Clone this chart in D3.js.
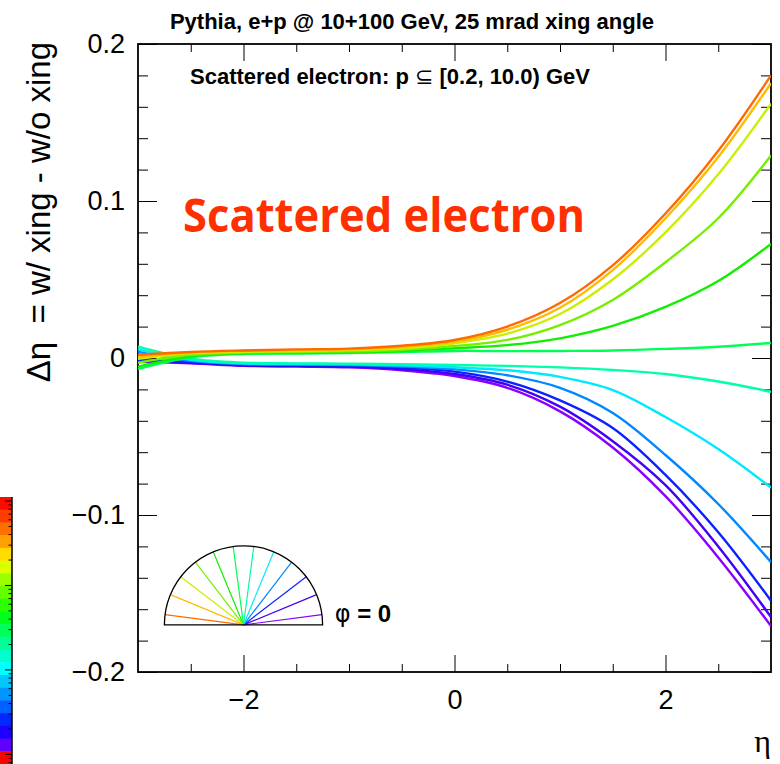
<!DOCTYPE html>
<html>
<head>
<meta charset="utf-8">
<script src="https://cdn.jsdelivr.net/npm/d3@7"></script>
<style>
  body { margin: 0; background: #fff; }
  svg text { font-family: "Liberation Sans", Arial, sans-serif; white-space: pre; }
</style>
</head>
<body>
<div id="chart"></div>
<script>
// eta sampling points of every curve
var etaPoints = [-3, -2.5, -2, -1.5, -1, -0.5, 0, 0.5, 1, 1.5, 2, 2.5, 3];

// one curve per azimuth slice (degrees)
var phiSlices = [7.5, 22.5, 37.5, 52.5, 67.5, 82.5, 97.5, 112.5, 127.5, 142.5, 157.5, 172.5];
var phiColors = ["#8a00ff", "#4200f5", "#0a22ff", "#0088ff", "#00e8ff", "#00ffaa",
                 "#00ff55", "#11ee00", "#77ee00", "#ccee00", "#ffbb00", "#ff6a00"];

var dEtaPhi7 = [-0.0024, -0.0034, -0.0050, -0.0055, -0.0060, -0.0078, -0.0115, -0.0190, -0.0340, -0.0570, -0.0880, -0.1270, -0.1707];
var dEtaPhi22 = [-0.0018, -0.0030, -0.0046, -0.0050, -0.0055, -0.0070, -0.0102, -0.0170, -0.0310, -0.0530, -0.0810, -0.1200, -0.1650];
var dEtaPhi37 = [-0.0012, -0.0025, -0.0042, -0.0046, -0.0050, -0.0062, -0.0087, -0.0150, -0.0270, -0.0446, -0.0745, -0.1110, -0.1546];
var dEtaPhi52 = [0.0040, -0.0018, -0.0038, -0.0042, -0.0045, -0.0054, -0.0072, -0.0110, -0.0190, -0.0350, -0.0618, -0.0930, -0.1300];
var dEtaPhi67 = [0.0055, -0.0012, -0.0035, -0.0038, -0.0040, -0.0047, -0.0059, -0.0078, -0.0120, -0.0204, -0.0376, -0.0580, -0.0826];
var dEtaPhi82 = [0.0072, -0.0005, -0.0030, -0.0034, -0.0036, -0.0040, -0.0045, -0.0050, -0.0060, -0.0076, -0.0102, -0.0150, -0.0215];
var dEtaPhi97 = [-0.0070, 0.0005, 0.0025, 0.0028, 0.0032, 0.0038, 0.0045, 0.0044, 0.0045, 0.0048, 0.0058, 0.0072, 0.0096];
var dEtaPhi112 = [-0.0055, 0.0012, 0.0030, 0.0032, 0.0036, 0.0045, 0.0062, 0.0082, 0.0125, 0.0204, 0.0325, 0.0490, 0.0726];
var dEtaPhi127 = [-0.0030, 0.0020, 0.0035, 0.0038, 0.0042, 0.0052, 0.0076, 0.0115, 0.0210, 0.0370, 0.0610, 0.0890, 0.1290];
var dEtaPhi142 = [-0.0005, 0.0030, 0.0040, 0.0045, 0.0050, 0.0062, 0.0094, 0.0155, 0.0280, 0.0500, 0.0800, 0.1170, 0.1620];
var dEtaPhi157 = [0.0008, 0.0035, 0.0045, 0.0050, 0.0055, 0.0070, 0.0104, 0.0180, 0.0320, 0.0560, 0.0890, 0.1280, 0.1750];
var dEtaPhi172 = [0.0020, 0.0038, 0.0048, 0.0055, 0.0060, 0.0078, 0.0115, 0.0200, 0.0350, 0.0590, 0.0920, 0.1320, 0.1800];

var allSeries = [dEtaPhi7, dEtaPhi22, dEtaPhi37, dEtaPhi52, dEtaPhi67, dEtaPhi82,
                 dEtaPhi97, dEtaPhi112, dEtaPhi127, dEtaPhi142, dEtaPhi157, dEtaPhi172];

// axis ticks
var xMajorTicks = [-2, 0, 2];
var xMinorTicks = [-2.5, -1.5, -1, -0.5, 0.5, 1, 1.5, 2.5];
var yMajorTicks = [-0.2, -0.1, 0, 0.1, 0.2];
var yMinorTicks = [-0.18, -0.16, -0.14, -0.12, -0.08, -0.06, -0.04, -0.02,
                   0.02, 0.04, 0.06, 0.08, 0.12, 0.14, 0.16, 0.18];

// palette strip of the colour bar left of the pad
var paletteBands = ["#ff0a00", "#ff3c00", "#ff7000", "#ffa000", "#ffdc00", "#dcff00", "#9cff00",
                    "#66ff00", "#2cff00", "#00ff1a", "#00ff5a", "#00ff96", "#00ffcc", "#00ffff",
                    "#00c8ff", "#0096ff", "#0060ff", "#0028ff", "#1e00ff", "#6000ff", "#ff0000"];

var width = 780, height = 764;
var svg = d3.select("#chart").append("svg")
  .attr("width", width)
  .attr("height", height);

var x = d3.scaleLinear().domain([-3, 3]).range([138, 771]);
var y = d3.scaleLinear().domain([-0.2, 0.2]).range([672, 44]);

svg.append("clipPath").attr("id", "frame-clip")
  .append("rect")
  .attr("x", x(-3)).attr("y", y(0.2))
  .attr("width", x(3) - x(-3)).attr("height", y(-0.2) - y(0.2));

// colour bar
var bandY = d3.scaleLinear().domain([0, paletteBands.length]).range([497, 764]);
svg.append("g").selectAll("rect")
  .data(paletteBands)
  .enter().append("rect")
  .attr("x", 0)
  .attr("y", function(d, i) { return bandY(i); })
  .attr("width", 12)
  .attr("height", function(d, i) { return bandY(i + 1) - bandY(i) + 0.5; })
  .style("fill", function(d) { return d; });

var cbScale = d3.scaleLog().domain([0.78, 1100]).range([763, 497]);
var cbAxis = svg.append("g")
  .attr("transform", "translate(12,0)")
  .call(d3.axisLeft(cbScale).tickSize(3.5).tickFormat(""));
cbAxis.selectAll(".tick line")
  .attr("x2", function(d) { return Math.abs(Math.log10(d) % 1) < 1e-6 ? -7 : -3.5; });
cbAxis.select(".domain").attr("d", "M0,497V764").style("stroke-width", 1.5);

// axes, ROOT style: ticks inside on all four sides
function drawAxis(axis, transform) {
  var g = svg.append("g").attr("transform", transform).call(axis);
  g.select(".domain").remove();
  g.selectAll(".tick line").style("stroke", "#000");
  g.selectAll("text").style("font-size", "27px").style("fill", "#000");
  return g;
}

var fmtY = function(d) { return d === 0 ? "0" : d3.format(".1f")(d); };

drawAxis(d3.axisBottom(x).tickValues(xMajorTicks).tickSize(-17).tickPadding(18).tickFormat(d3.format("d")),
  "translate(0," + y(-0.2) + ")");
drawAxis(d3.axisBottom(x).tickValues(xMinorTicks).tickSize(-8).tickFormat(""),
  "translate(0," + y(-0.2) + ")");
drawAxis(d3.axisTop(x).tickValues(xMajorTicks).tickSize(-17).tickFormat(""),
  "translate(0," + y(0.2) + ")");
drawAxis(d3.axisTop(x).tickValues(xMinorTicks).tickSize(-8).tickFormat(""),
  "translate(0," + y(0.2) + ")");
drawAxis(d3.axisLeft(y).tickValues(yMajorTicks).tickSize(-19).tickPadding(13).tickFormat(fmtY),
  "translate(" + x(-3) + ",0)");
drawAxis(d3.axisLeft(y).tickValues(yMinorTicks).tickSize(-10).tickFormat(""),
  "translate(" + x(-3) + ",0)");
drawAxis(d3.axisRight(y).tickValues(yMajorTicks).tickSize(-19).tickFormat(""),
  "translate(" + x(3) + ",0)");
drawAxis(d3.axisRight(y).tickValues(yMinorTicks).tickSize(-10).tickFormat(""),
  "translate(" + x(3) + ",0)");

svg.append("rect")
  .attr("x", x(-3)).attr("y", y(0.2))
  .attr("width", x(3) - x(-3)).attr("height", y(-0.2) - y(0.2))
  .style("fill", "none")
  .style("stroke", "#000")
  .style("stroke-width", 1.8);

// curves
var line = d3.line()
  .x(function(d) { return x(d[0]); })
  .y(function(d) { return y(d[1]); })
  .curve(d3.curveCatmullRom.alpha(0.5));

svg.append("g")
  .attr("clip-path", "url(#frame-clip)")
  .selectAll("path")
  .data(allSeries)
  .enter().append("path")
  .attr("d", function(s) { return line(etaPoints.map(function(e, i) { return [e, s[i]]; })); })
  .style("fill", "none")
  .style("stroke", function(s, i) { return phiColors[i]; })
  .style("stroke-width", 2.4);

// azimuth legend: half disc with one spoke per slice
var cx = x(-2), cy = y(-0.17);
var r = x(-1.25) - x(-2);
var legend = svg.append("g");
legend.selectAll("line.spoke")
  .data(phiSlices)
  .enter().append("line")
  .attr("class", "spoke")
  .attr("x1", cx).attr("y1", cy)
  .attr("x2", function(d) { return cx + r * Math.cos(d * Math.PI / 180); })
  .attr("y2", function(d) { return cy - r * Math.sin(d * Math.PI / 180); })
  .style("stroke", function(d, i) { return phiColors[i]; })
  .style("stroke-width", 1.2);
legend.append("path")
  .attr("d", "M" + (cx - r) + "," + cy + "A" + r + "," + r + " 0 0 1 " + (cx + r) + "," + cy + "Z")
  .style("fill", "none")
  .style("stroke", "#000")
  .style("stroke-width", 1.3);

var phiLabel = legend.append("text")
  .attr("x", cx + r + 12)
  .attr("y", cy - 3)
  .style("font-size", "24px");
phiLabel.append("tspan").style("font-family", "'DejaVu Sans'").text("\u03c6");
phiLabel.append("tspan").style("font-weight", "bold").text(" = 0");

// texts
svg.append("text")
  .attr("x", 412).attr("y", 29)
  .attr("text-anchor", "middle")
  .style("font-weight", "bold")
  .style("font-size", "22px")
  .text("Pythia, e+p @ 10+100 GeV, 25 mrad xing angle");

var sub = svg.append("text")
  .attr("x", 190).attr("y", 84)
  .style("font-weight", "bold")
  .style("font-size", "22px");
sub.append("tspan").text("Scattered electron: p ");
sub.append("tspan").style("font-weight", "normal").style("font-family", "'DejaVu Sans'").text("\u2286");
sub.append("tspan").text(" [0.2, 10.0) GeV");

svg.append("text")
  .attr("x", 183).attr("y", 232)
  .attr("textLength", 402)
  .attr("lengthAdjust", "spacingAndGlyphs")
  .style("font-family", "'Open Sans'")
  .style("font-weight", "bold")
  .style("font-size", "46px")
  .style("fill", "#ff3000")
  .text("Scattered electron");

svg.append("text")
  .attr("transform", "translate(50,42) rotate(-90)")
  .attr("text-anchor", "end")
  .style("font-size", "33px")
  .text("\u0394\u03b7  = w/ xing - w/o xing");

svg.append("text")
  .attr("x", 771).attr("y", 752)
  .attr("text-anchor", "end")
  .style("font-family", "'Liberation Serif'")
  .style("font-size", "32px")
  .text("\u03b7");
</script>
</body>
</html>
